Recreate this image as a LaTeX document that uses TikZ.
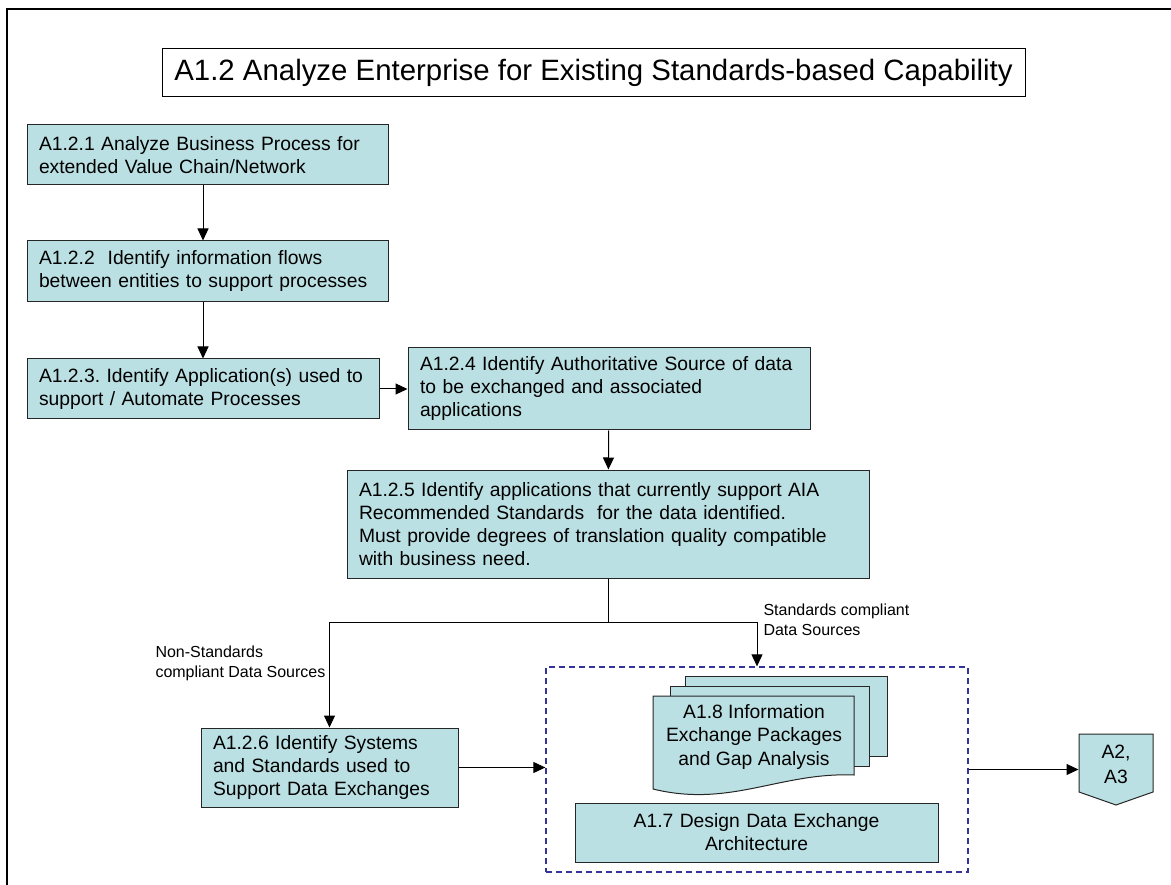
\documentclass[tikz,border=0pt]{standalone}
\usepackage{fontspec}
\setmainfont{Liberation Sans}
\usetikzlibrary{arrows.meta}
\definecolor{boxfill}{RGB}{187,224,227}
\definecolor{dashblue}{RGB}{51,51,153}
\tikzset{
  box/.style={draw=black!85, line width=1pt, fill=boxfill, inner xsep=12pt, inner ysep=0pt,
              align=left, font=\fontsize{19.3}{23}\selectfont},
  sheet/.style={draw=black!85, line width=1pt, fill=boxfill},
  lbl/.style={inner sep=0pt, align=left, font=\fontsize{16}{20}\selectfont}
}
\frenchspacing
\begin{document}
\begin{tikzpicture}[x=1pt, y=-1pt, >={Triangle[length=12pt,width=11pt]}, line width=1pt]
				\useasboundingbox (0,0) rectangle (1171,885);
				\draw[line width=1.3pt] (7,885) -- (7,9) -- (1171,9);
				
				\node (title) at (593.5,73) [draw, minimum width=863, minimum height=48,
				      font=\fontsize{29.4}{34}\selectfont] {A1.2 Analyze Enterprise for Existing Standards-based Capability};
				
				\node (b1)   at (207.5,155)   [box, text width=337, minimum height=60]  {A1.2.1 Analyze Business Process for\\extended Value Chain/Network};
				\node (b2)   at (207.5,271.5) [box, text width=337, minimum height=61]  {A1.2.2~ Identify information flows\\between entities to support processes};
				\node (b3)   at (203,389)     [box, text width=328, minimum height=60]  {A1.2.3. Identify Application(s) used to\\support / Automate Processes};
				\node (b4)   at (609,389)     [box, text width=378, minimum height=82]  {A1.2.4 Identify Authoritative Source of data\\to be exchanged and associated\\applications};
				\node (b5)   at (608,524)     [box, text width=498, minimum height=108] {A1.2.5 Identify applications that currently support AIA\\Recommended Standards~ for the data identified.\\Must provide degrees of translation quality compatible\\with business need.};
				\node (b6)   at (329.5,767.5) [box, text width=233, minimum height=79]  {A1.2.6 Identify Systems\\and Standards used to\\Support Data Exchanges};
				
				% exchange group
				\node (exch) at (757,769.5) [draw=dashblue, line width=1.3pt, dash pattern=on 6pt off 4pt,
				      minimum width=422, minimum height=205] {};
				\draw[sheet] (685,676) rectangle (887,756);
				\draw[sheet] (670,686) rectangle (869,766);
				\draw[sheet] (653,696) -- (854,696) -- (854,775) .. controls (780,772) and (730,808) .. (653,789) -- cycle;
				\node (a18)  at (754,737) [inner sep=0pt, align=center, font=\fontsize{19.3}{23.5}\selectfont] {A1.8 Information\\Exchange Packages\\and Gap Analysis};
				\node (a17)  at (756.5,832.5) [box, align=center, text width=339, minimum height=59] {A1.7 Design Data Exchange\\Architecture};
				
				% off-page connector
				\draw[sheet] (1079,734) -- (1153,734) -- (1153,792) -- (1116,805) -- (1079,792) -- cycle;
				\node (a23)  at (1116,764) [minimum width=74, minimum height=58, inner sep=0pt, align=center,
				      font=\fontsize{19.3}{25}\selectfont] {A2,\\A3};
				
				\node (stdlbl) at (763,620) [anchor=west, lbl] {Standards compliant\\Data Sources};
				\node (nonlbl) at (155,663) [anchor=west, lbl] {Non-Standards\\compliant Data Sources};
				
				\coordinate (split) at (608,622);
				
				\draw[->] (b1.south -| b3) -- (b2.north -| b3);
				\draw[->] (b2.south -| b3) -- (b3);
				\path[->]
				(b3) edge (b4)
				(b4) edge (b5)
				;
				\draw (b5) -- (split);
				\draw[->] (split) -| (b6);
				\draw[->] (split) -| (exch);
				\draw[->] (b6) -- (b6 -| exch.west);
				\draw[->] (exch) -- (exch -| a23.west);
				
			\end{tikzpicture}
\end{document}
